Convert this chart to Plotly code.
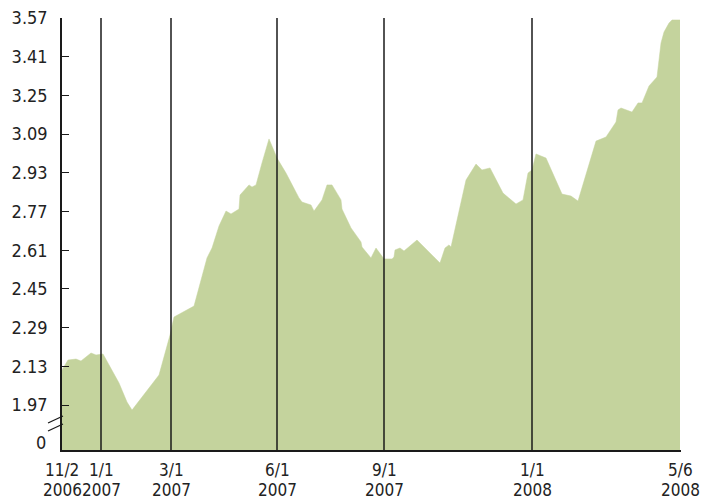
import plotly.graph_objects as go

# Observation positions (sequence index along the x axis) and rates
obs_pos = [0, 6, 14, 19, 29, 34, 41, 57, 65, 70,
           97, 108, 112, 132, 145, 150, 157, 164, 169, 177,
           178, 187, 190, 194, 200, 207, 215, 224, 237, 240,
           249, 252, 260, 265, 270, 279, 280, 289, 299, 300,
           309, 314, 322, 330, 332, 333, 338, 342, 355, 378,
           383, 387, 389, 404, 414, 420, 428, 441, 454, 461,
           466, 470, 474, 484, 500, 509, 516, 534, 544, 554,
           556, 559, 570, 576, 580, 587, 595, 599, 602, 607,
           610, 618]
rates = [2.115, 2.156, 2.160, 2.152, 2.185, 2.177, 2.181, 2.061, 1.982, 1.949,
         2.094, 2.259, 2.334, 2.379, 2.578, 2.619, 2.710, 2.772, 2.760, 2.780,
         2.838, 2.880, 2.871, 2.880, 2.971, 3.070, 2.991, 2.929, 2.826, 2.809,
         2.797, 2.772, 2.818, 2.880, 2.880, 2.818, 2.780, 2.702, 2.644, 2.623,
         2.578, 2.619, 2.574, 2.574, 2.582, 2.611, 2.619, 2.607, 2.652, 2.557,
         2.619, 2.632, 2.623, 2.900, 2.966, 2.942, 2.950, 2.846, 2.801, 2.818,
         2.929, 2.942, 3.008, 2.991, 2.842, 2.834, 2.813, 3.061, 3.078, 3.140,
         3.190, 3.198, 3.181, 3.219, 3.219, 3.289, 3.326, 3.467, 3.512, 3.549,
         3.562, 3.562]

# x tick labels (dates) and their positions on the observation axis
date_tick_pos = [0, 39, 109, 215, 322, 470, 618]
date_tick_day = ["11/2", "1/1", "3/1", "6/1", "9/1", "1/1", "5/6"]
date_tick_year = ["2006", "2007", "2007", "2007", "2007", "2008", "2008"]
# dates marked with vertical reference lines
marker_pos = [39, 109, 215, 322, 470]

# y ticks (broken axis: 0 shown below the break)
y_tick_vals = [1.97, 2.13, 2.29, 2.45, 2.61, 2.77, 2.93, 3.09, 3.25, 3.41, 3.57]
y_tick_text = ["1.97", "2.13", "2.29", "2.45", "2.61", "2.77", "2.93", "3.09", "3.25", "3.41", "3.57"]
y_zero_label = "0"

FONT = "DejaVu Sans Condensed, Liberation Sans Narrow, Roboto, sans-serif"
FSIZE = 18
XSIZE = 17
TXT = "#222"
Y_MIN, Y_MAX = 1.784, 3.57
ZERO_LABEL_Y = 1.813
PLOT_W, PLOT_H = 619, 432

fig = go.Figure()
fig.add_trace(go.Scatter(
    x=obs_pos, y=rates, mode="lines", fill="tozeroy",
    line=dict(color="#C4D39D", width=0.5), fillcolor="#C4D39D",
    hoverinfo="skip", showlegend=False,
))

shapes = []
for p in marker_pos:
    shapes.append(dict(type="line", xref="x", yref="paper", x0=p, x1=p, y0=0, y1=1,
                       line=dict(color="#1a1a1a", width=1.5), layer="above"))
# axis-break marks (two short slashes across the y axis)
for off in (0, 8):
    shapes.append(dict(type="line", xref="paper", yref="paper",
                       x0=-14 / PLOT_W, x1=1 / PLOT_W,
                       y0=(27 - off) / PLOT_H, y1=(34 - off) / PLOT_H,
                       line=dict(color="#1a1a1a", width=1.3)))

annotations = [dict(x=0, xref="paper", xanchor="right", xshift=-14,
                    y=ZERO_LABEL_Y, yref="y", yanchor="middle", text=y_zero_label,
                    showarrow=False, font=dict(family=FONT, size=FSIZE, color=TXT))]
for p, d, yr in zip(date_tick_pos, date_tick_day, date_tick_year):
    annotations.append(dict(x=p, xref="x", y=0, yref="paper", yanchor="middle",
                            yshift=-20, text=d, showarrow=False,
                            font=dict(family=FONT, size=XSIZE, color=TXT)))
    annotations.append(dict(x=p, xref="x", y=0, yref="paper", yanchor="middle",
                            yshift=-40, text=yr, showarrow=False,
                            font=dict(family=FONT, size=XSIZE, color=TXT)))

fig.update_layout(
    width=712, height=502,
    margin=dict(l=62, r=31, t=18, b=52),
    paper_bgcolor="white", plot_bgcolor="white",
    font=dict(family=FONT, size=FSIZE, color=TXT),
    shapes=shapes,
    annotations=annotations,
    xaxis=dict(range=[0, 619], showticklabels=False,
               showgrid=False, zeroline=False, showline=True, linecolor="#1a1a1a",
               linewidth=1.5, ticks="", automargin=False),
    yaxis=dict(range=[Y_MIN, Y_MAX], tickvals=y_tick_vals, ticktext=y_tick_text,
               showgrid=False, zeroline=False, showline=True, linecolor="#1a1a1a",
               linewidth=1.5, ticks="inside", ticklen=7, tickcolor="#1a1a1a",
               tickwidth=1.3, automargin=False,
               tickfont=dict(family=FONT, size=FSIZE, color=TXT), ticklabelstandoff=9),
)

fig.write_html("out.html", config={"displayModeBar": False},
               post_script="document.body.style.margin='0px';")
